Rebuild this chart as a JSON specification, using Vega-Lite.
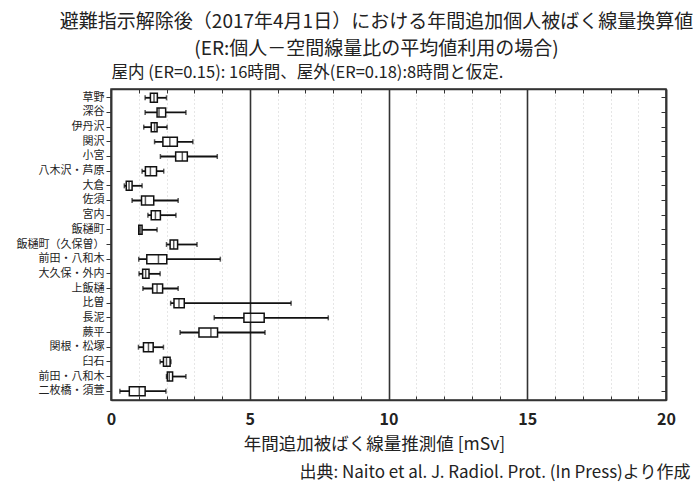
{
  "$schema": "https://vega.github.io/schema/vega-lite/v6.json",
  "width": 555,
  "height": 311,
  "autosize": "none",
  "padding": {"left": 111, "top": 89, "right": 28, "bottom": 84},
  "background": "white",
  "title": {
    "text": ["避難指示解除後（2017年4月1日）における年間追加個人被ばく線量換算値", "(ER:個人－空間線量比の平均値利用の場合)"],
    "anchor": "middle",
    "frame": "group",
    "dx": -12,
    "fontSize": 19,
    "font": "Noto Sans CJK JP",
    "fontWeight": "normal",
    "color": "#222222",
    "lineHeight": 27,
    "offset": 6
  },
  "config": {
    "font": "Noto Sans CJK JP",
    "view": {"stroke": "#333333", "strokeWidth": 1.5},
    "axis": {"grid": false, "domainColor": "#333333", "domainWidth": 1.5, "tickColor": "#333333", "labelColor": "#222222", "titleColor": "#222222", "titleFontWeight": "normal", "labelFont": "Noto Sans CJK JP", "titleFont": "Noto Sans CJK JP"},
    "scale": {"bandPaddingInner": 0, "bandPaddingOuter": 0.1}
  },
  "data": {
    "values": [
      {"name": "草野", "low": 1.23, "q1": 1.42, "med": 1.55, "q3": 1.67, "high": 2.0},
      {"name": "深谷", "low": 1.23, "q1": 1.66, "med": 1.73, "q3": 1.97, "high": 2.7},
      {"name": "伊丹沢", "low": 1.18, "q1": 1.45, "med": 1.57, "q3": 1.66, "high": 2.02},
      {"name": "関沢", "low": 1.57, "q1": 1.87, "med": 2.12, "q3": 2.39, "high": 2.95},
      {"name": "小宮", "low": 1.78, "q1": 2.33, "med": 2.57, "q3": 2.75, "high": 3.83},
      {"name": "八木沢・芦原", "low": 1.12, "q1": 1.24, "med": 1.42, "q3": 1.64, "high": 1.9},
      {"name": "大倉", "low": 0.48, "q1": 0.55, "med": 0.65, "q3": 0.76, "high": 1.12},
      {"name": "佐須", "low": 0.76, "q1": 1.1, "med": 1.24, "q3": 1.54, "high": 2.42},
      {"name": "宮内", "low": 1.33, "q1": 1.45, "med": 1.6, "q3": 1.78, "high": 2.34},
      {"name": "飯樋町", "low": 1.0, "q1": 1.0, "med": 1.05, "q3": 1.12, "high": 1.66},
      {"name": "飯樋町（久保曽）", "low": 2.0, "q1": 2.13, "med": 2.26, "q3": 2.4, "high": 3.1},
      {"name": "前田・八和木", "low": 1.0, "q1": 1.29, "med": 1.71, "q3": 2.01, "high": 3.94},
      {"name": "大久保・外内", "low": 1.01, "q1": 1.14, "med": 1.25, "q3": 1.37, "high": 1.77},
      {"name": "上飯樋", "low": 1.15, "q1": 1.5, "med": 1.66, "q3": 1.86, "high": 2.42},
      {"name": "比曽", "low": 2.15, "q1": 2.27, "med": 2.45, "q3": 2.64, "high": 6.49},
      {"name": "長泥", "low": 3.72, "q1": 4.79, "med": 5.03, "q3": 5.52, "high": 7.83},
      {"name": "蕨平", "low": 2.49, "q1": 3.17, "med": 3.6, "q3": 3.84, "high": 5.55},
      {"name": "関根・松塚", "low": 0.99, "q1": 1.17, "med": 1.35, "q3": 1.52, "high": 1.89},
      {"name": "臼石", "low": 1.77, "q1": 1.89, "med": 2.0, "q3": 2.13, "high": 2.16},
      {"name": "前田・八和木\u200b", "low": 2.0, "q1": 2.03, "med": 2.1, "q3": 2.22, "high": 2.7},
      {"name": "二枚橋・須萱", "low": 0.32, "q1": 0.66, "med": 1.02, "q3": 1.23, "high": 1.98}
    ]
  },
  "resolve": {"axis": {"x": "independent", "y": "independent"}},
  "layer": [
    {
      "mark": {"type": "rule", "color": "#111111", "strokeWidth": 1.8},
      "encoding": {
        "y": {"field": "name", "type": "nominal", "sort": null,
          "axis": {"orient": "left", "title": null, "labelFontSize": 11, "tickSize": 5, "labelPadding": 2, "ticks": true}},
        "x": {"field": "low", "type": "quantitative",
          "scale": {"domain": [0, 20], "nice": false, "zero": false},
          "axis": {"orient": "bottom", "grid": true, "labelFlush": false,
            "values": [0,1,2,3,4,5,6,7,8,9,10,11,12,13,14,15,16,17,18,19,20],
            "labelExpr": "datum.value % 5 === 0 ? datum.label : ''",
            "labelFontSize": 16, "labelFontWeight": "bold", "labelPadding": 15, "tickSize": -4,
            "title": "年間追加被ばく線量推測値 [mSv]", "titleFontSize": 17.5, "titlePadding": 8,
            "titleX": 263, "titleAlign": "center",
            "gridColor": {"condition": {"test": "datum.value % 5 === 0", "value": "#333333"}, "value": "#cccccc"},
            "gridDash": {"condition": {"test": "datum.value % 5 === 0", "value": []}, "value": [1, 3]},
            "gridWidth": {"condition": {"test": "datum.value % 5 === 0", "value": 1.6}, "value": 1}
          }},
        "x2": {"field": "high"}
      }
    },
    {
      "mark": {"type": "bar", "fill": "white", "stroke": "#111111", "strokeWidth": 1.5, "size": 9},
      "encoding": {
        "y": {"field": "name", "type": "nominal", "sort": null,
          "axis": {"orient": "right", "title": null, "labels": false, "tickSize": -5}},
        "x": {"field": "q1", "type": "quantitative",
          "scale": {"domain": [0, 20], "nice": false, "zero": false},
          "axis": {"orient": "top", "labels": false, "grid": false, "tickSize": -4,
            "values": [0,1,2,3,4,5,6,7,8,9,10,11,12,13,14,15,16,17,18,19,20],
            "title": "屋内 (ER=0.15): 16時間、屋外(ER=0.18):8時間と仮定.",
            "titleFontSize": 16.5, "titleAnchor": "start", "titleAlign": "left", "titlePadding": 8}},
        "x2": {"field": "q3"}
      }
    },
    {
      "mark": {"type": "tick", "color": "#111111", "size": 9, "thickness": 1.5},
      "encoding": {
        "y": {"field": "name", "type": "nominal", "sort": null, "axis": null},
        "x": {"field": "med", "type": "quantitative",
          "scale": {"domain": [0, 20], "nice": false, "zero": false},
          "axis": {"orient": "bottom", "labels": false, "ticks": false, "domain": false, "grid": false,
            "title": "出典: Naito et al. J. Radiol. Prot. (In Press)より作成",
            "titleFontSize": 17, "titleAnchor": "end", "titleAlign": "right", "titleBaseline": "middle",
            "titleX": 579, "titleY": 72}}
      }
    },
    {
      "mark": {"type": "tick", "color": "#111111", "size": 5, "thickness": 1.5},
      "encoding": {
        "y": {"field": "name", "type": "nominal", "sort": null, "axis": null},
        "x": {"field": "low", "type": "quantitative", "axis": null}
      }
    },
    {
      "mark": {"type": "tick", "color": "#111111", "size": 5, "thickness": 1.5},
      "encoding": {
        "y": {"field": "name", "type": "nominal", "sort": null, "axis": null},
        "x": {"field": "high", "type": "quantitative", "axis": null}
      }
    }
  ]
}
